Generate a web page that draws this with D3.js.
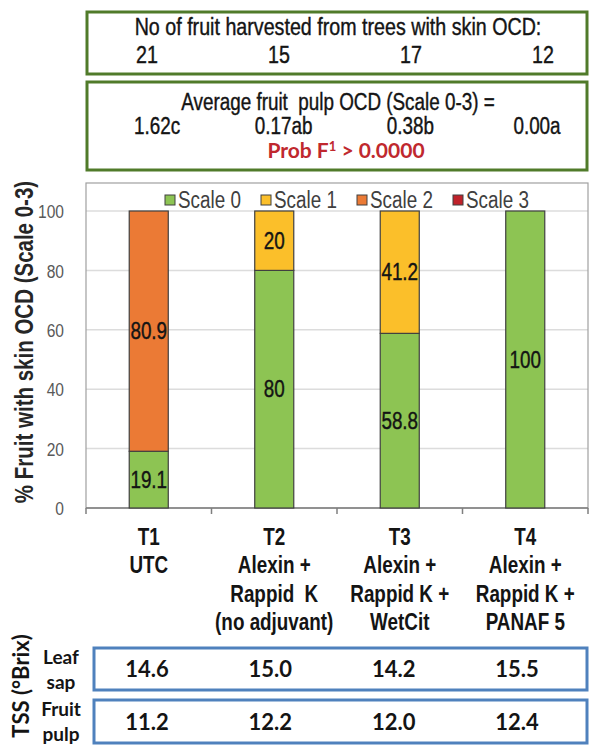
<!DOCTYPE html>
<html>
<head>
<meta charset="utf-8">
<script src="https://cdn.jsdelivr.net/npm/d3@7/dist/d3.min.js"></script>
<style>
  body { margin: 0; background: #fff; }
  svg { display: block; }
  .narrow { font-family: "Liberation Sans", Arial, sans-serif; }
  .calib { font-family: Lato, "Open Sans", sans-serif; }
</style>
</head>
<body>
<div id="chart"></div>
<script>
// Data
const categories = ['T1', 'T2', 'T3', 'T4'];
const categoryLines = [
  ['T1', 'UTC'],
  ['T2', 'Alexin +', 'Rappid  K', '(no adjuvant)'],
  ['T3', 'Alexin +', 'Rappid K +', 'WetCit'],
  ['T4', 'Alexin +', 'Rappid K +', 'PANAF 5']
];
const seriesNames = ['Scale 0', 'Scale 1', 'Scale 2', 'Scale 3'];
const scale0 = [19.1, 80, 58.8, 100];
const scale1 = [0, 20, 41.2, 0];
const scale2 = [80.9, 0, 0, 0];
const scale3 = [0, 0, 0, 0];
const yTicks = [0, 20, 40, 60, 80, 100];
const fruitCount = ['21', '15', '17', '12'];
const pulpOCD = ['1.62c', '0.17ab', '0.38b', '0.00a'];
const leafSap = ['14.6', '15.0', '14.2', '15.5'];
const fruitPulp = ['11.2', '12.2', '12.0', '12.4'];

const colors = ['#8dc453', '#fbbf2a', '#eb7a35', '#c0222a'];

const width = 590;
const height = 749;
const plot = { left: 86, right: 588, top: 183, bottom: 508 };
const squeeze = 0.82; // Arial Narrow look
const ink = '#141414';

function at(px, py) {
  return 'translate(' + px + ',' + py + ') scale(' + squeeze + ',1)';
}

const svg = d3.select('#chart')
  .append('svg')
  .attr('width', width)
  .attr('height', height);

// Scales
var x = d3.scaleBand()
  .domain(categories)
  .range([plot.left, plot.right])
  .paddingInner(0.689)
  .paddingOuter(0.3445);

var y = d3.scaleLinear()
  .domain([0, 100])
  .range([plot.bottom, 211]);

// Gridlines
svg.append('g')
  .selectAll('line')
  .data(yTicks.slice(1))
  .enter()
  .append('line')
  .attr('x1', plot.left)
  .attr('x2', plot.right)
  .attr('y1', d => y(d))
  .attr('y2', d => y(d))
  .attr('stroke', '#dcdcdc')
  .attr('stroke-width', 1.5);

// Plot frame
svg.append('rect')
  .attr('x', plot.left)
  .attr('y', plot.top)
  .attr('width', plot.right - plot.left)
  .attr('height', plot.bottom - plot.top)
  .attr('fill', 'none')
  .attr('stroke', '#a0a0a0')
  .attr('stroke-width', 1.2);

// Y axis
var axisY = d3.axisLeft(y)
  .tickValues(yTicks)
  .tickSize(0);

var gy = svg.append('g')
  .attr('transform', 'translate(' + plot.left + ',0)')
  .call(axisY);
gy.select('.domain').remove();
gy.selectAll('text')
  .attr('class', 'narrow')
  .attr('x', 0)
  .attr('dy', '0.35em')
  .attr('transform', at(-22, 0))
  .attr('font-size', '19px')
  .attr('fill', '#595959');

// X axis (ticks at band boundaries)
var boundaries = categories.map(c => x(c) - x.step() * x.paddingInner() / 2);
boundaries.push(plot.right);

svg.append('line')
  .attr('x1', plot.left)
  .attr('x2', plot.right)
  .attr('y1', plot.bottom)
  .attr('y2', plot.bottom)
  .attr('stroke', '#7f7f7f')
  .attr('stroke-width', 1.5);

svg.append('g')
  .selectAll('line')
  .data(boundaries)
  .enter()
  .append('line')
  .attr('x1', d => d)
  .attr('x2', d => d)
  .attr('y1', plot.bottom)
  .attr('y2', plot.bottom + 6)
  .attr('stroke', '#7f7f7f')
  .attr('stroke-width', 1.5);

// Stacked bars
var table = categories.map((c, i) => ({
  cat: c,
  'Scale 0': scale0[i],
  'Scale 1': scale1[i],
  'Scale 2': scale2[i],
  'Scale 3': scale3[i]
}));
var stacked = d3.stack().keys(seriesNames)(table);

var layers = svg.append('g')
  .selectAll('g')
  .data(stacked)
  .enter()
  .append('g')
  .attr('fill', (d, i) => colors[i]);

layers.selectAll('rect')
  .data(d => d.filter(s => s[1] - s[0] > 0))
  .enter()
  .append('rect')
  .attr('x', d => x(d.data.cat))
  .attr('y', d => y(d[1]))
  .attr('width', x.bandwidth())
  .attr('height', d => y(d[0]) - y(d[1]))
  .attr('stroke', '#404040')
  .attr('stroke-width', 1.2);

layers.selectAll('text')
  .data(d => d.filter(s => s[1] - s[0] > 0).map(s => ({ s: s, v: s[1] - s[0] })))
  .enter()
  .append('text')
  .attr('class', 'narrow')
  .attr('transform', d => at(x(d.s.data.cat) + x.bandwidth() / 2, y((d.s[0] + d.s[1]) / 2) + 8))
  .attr('text-anchor', 'middle')
  .attr('font-size', '23px')
  .attr('fill', ink)
  .attr('stroke', ink)
  .attr('stroke-width', 0.4)
  .text(d => d.v);

// Legend
var legendX = d3.scalePoint().domain(seriesNames).range([165, 453]);
var legend = svg.append('g')
  .selectAll('g')
  .data(seriesNames)
  .enter()
  .append('g')
  .attr('transform', d => 'translate(' + legendX(d) + ',200)');

legend.append('rect')
  .attr('x', 0)
  .attr('y', -5)
  .attr('width', 10)
  .attr('height', 10)
  .attr('fill', (d, i) => colors[i])
  .attr('stroke', '#404040')
  .attr('stroke-width', 1);

legend.append('text')
  .attr('class', 'narrow')
  .attr('transform', at(13, 8))
  .attr('font-size', '23px')
  .attr('fill', '#404040')
  .text(d => d);

// Y axis title
svg.append('text')
  .attr('class', 'narrow')
  .attr('transform', 'translate(33,342) rotate(-90) scale(' + squeeze + ',1)')
  .attr('text-anchor', 'middle')
  .attr('font-size', '25px')
  .attr('font-weight', 'bold')
  .attr('fill', '#262626')
  .text('% Fruit with skin OCD (Scale 0-3)');

// Category labels
var cats = svg.append('g')
  .selectAll('text')
  .data(categories)
  .enter()
  .append('text')
  .attr('class', 'narrow')
  .attr('transform', d => at(x(d) + x.bandwidth() / 2, 0))
  .attr('text-anchor', 'middle')
  .attr('font-size', '23px')
  .attr('font-weight', 'bold')
  .attr('fill', ink)
  .attr('xml:space', 'preserve');

cats.selectAll('tspan')
  .data((d, i) => categoryLines[i])
  .enter()
  .append('tspan')
  .attr('x', 0)
  .attr('y', (d, i) => 545 + i * 28.5)
  .text(d => d);

// Top boxes
var greenBox = '#507b2a';
svg.append('rect')
  .attr('x', 87).attr('y', 12)
  .attr('width', 500).attr('height', 62)
  .attr('fill', 'none')
  .attr('stroke', greenBox)
  .attr('stroke-width', 3);

svg.append('rect')
  .attr('x', 87).attr('y', 82)
  .attr('width', 500).attr('height', 88)
  .attr('fill', 'none')
  .attr('stroke', greenBox)
  .attr('stroke-width', 3);

svg.append('text')
  .attr('class', 'narrow')
  .attr('transform', at(338, 35))
  .attr('text-anchor', 'middle')
  .attr('font-size', '24px')
  .attr('fill', ink)
  .attr('stroke', ink)
  .attr('stroke-width', 0.4)
  .text('No of fruit harvested from trees with skin OCD:');

var countX = d3.scalePoint().domain(categories).range([147, 543]);
svg.append('g')
  .selectAll('text')
  .data(fruitCount)
  .enter()
  .append('text')
  .attr('class', 'narrow')
  .attr('transform', (d, i) => at(countX(categories[i]), 63))
  .attr('text-anchor', 'middle')
  .attr('font-size', '24px')
  .attr('fill', ink)
  .attr('stroke', ink)
  .attr('stroke-width', 0.4)
  .text(d => d);

svg.append('text')
  .attr('class', 'narrow')
  .attr('transform', at(338, 110))
  .attr('text-anchor', 'middle')
  .attr('font-size', '23px')
  .attr('fill', ink)
  .attr('stroke', ink)
  .attr('stroke-width', 0.4)
  .attr('xml:space', 'preserve')
  .text('Average fruit  pulp OCD (Scale 0-3) =');

var ocdX = d3.scalePoint().domain(categories).range([157, 537]);
svg.append('g')
  .selectAll('text')
  .data(pulpOCD)
  .enter()
  .append('text')
  .attr('class', 'narrow')
  .attr('transform', (d, i) => at(ocdX(categories[i]), 134))
  .attr('text-anchor', 'middle')
  .attr('font-size', '23px')
  .attr('fill', ink)
  .attr('stroke', ink)
  .attr('stroke-width', 0.4)
  .text(d => d);

var prob = svg.append('text')
  .attr('class', 'calib')
  .attr('x', 346).attr('y', 158)
  .attr('text-anchor', 'middle')
  .attr('font-size', '21px')
  .attr('font-weight', 'bold')
  .attr('fill', '#c0282e');
prob.append('tspan').text('Prob F');
prob.append('tspan').attr('dy', -7).attr('font-size', '13px').text('1');
prob.append('tspan').attr('dy', 7).text(' > 0.0000');

// TSS boxes
var blueBox = '#4f81bd';
var tssRows = [
  { vals: leafSap, top: 648, h: 42, labels: ['Leaf', 'sap'] },
  { vals: fruitPulp, top: 700, h: 43, labels: ['Fruit', 'pulp'] }
];
var tssX = d3.scalePoint().domain(categories).range([147, 517]);

tssRows.forEach(function (row) {
  svg.append('rect')
    .attr('x', 94).attr('y', row.top)
    .attr('width', 493).attr('height', row.h)
    .attr('fill', 'none')
    .attr('stroke', blueBox)
    .attr('stroke-width', 3);

  svg.append('g')
    .selectAll('text')
    .data(row.vals)
    .enter()
    .append('text')
    .attr('class', 'calib')
    .attr('x', (d, i) => tssX(categories[i]))
    .attr('y', row.top + row.h / 2 + 8)
    .attr('text-anchor', 'middle')
    .attr('font-size', '22px')
    .attr('font-weight', 'bold')
    .attr('fill', ink)
    .text(d => d);

  svg.append('g')
    .selectAll('text')
    .data(row.labels)
    .enter()
    .append('text')
    .attr('class', 'calib')
    .attr('x', 61)
    .attr('y', (d, i) => row.top + 16 + i * 25)
    .attr('text-anchor', 'middle')
    .attr('font-size', '19px')
    .attr('font-weight', 'bold')
    .attr('fill', ink)
    .text(d => d);
});

svg.append('text')
  .attr('class', 'calib')
  .attr('transform', 'translate(29,686) rotate(-90)')
  .attr('text-anchor', 'middle')
  .attr('font-size', '22px')
  .attr('font-weight', 'bold')
  .attr('fill', ink)
  .text('TSS (°Brix)');
</script>
</body>
</html>
